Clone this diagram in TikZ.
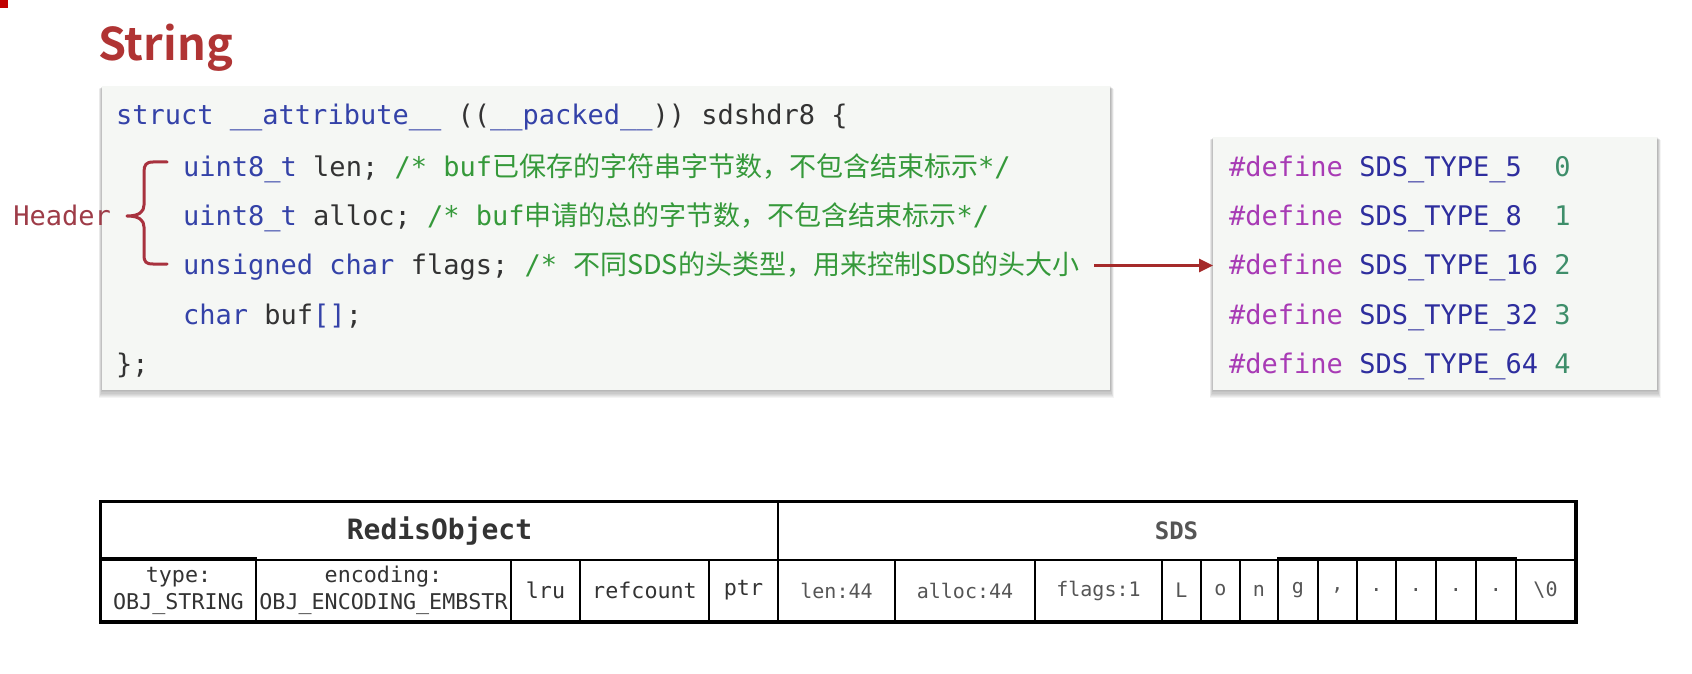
\documentclass[tikz,border=0pt]{standalone}
\usepackage{fontspec}
\setmonofont{DejaVu Sans Mono}
\newfontfamily\cjk{Noto Sans CJK SC}
\newfontfamily\titlefont{Noto Sans CJK SC Bold}
\usetikzlibrary{arrows.meta,calc}
\definecolor{kw}{HTML}{3442A8}
\definecolor{txt}{HTML}{333333}
\definecolor{cmt}{HTML}{35993A}
\definecolor{mac}{HTML}{A83BB5}
\definecolor{cst}{HTML}{2E2E9E}
\definecolor{num}{HTML}{3E8E6A}
\definecolor{ttl}{HTML}{B03434}
\definecolor{brc}{HTML}{A8323E}
\definecolor{hdrc}{HTML}{9E3C48}
\definecolor{arw}{HTML}{A52A2A}
\definecolor{boxbg}{HTML}{F5F7F4}
\definecolor{sdsgray}{HTML}{555555}
\definecolor{corner}{HTML}{C00000}
\begin{document}
\begin{tikzpicture}[x=1pt,y=-1pt,
  codeline/.style={anchor=base west,inner sep=0pt,text=txt,font=\ttfamily\fontsize{27}{27}\selectfont},
  panel/.style={anchor=north west,fill=boxbg,inner sep=0pt},
  tcell/.style={draw=black,line width=2pt,anchor=north west,inner sep=0pt,align=center,text=txt,
     font=\ttfamily\fontsize{21.7}{27}\selectfont},
  scell/.style={tcell,text=sdsgray,font=\ttfamily\fontsize{20}{25}\selectfont},
  arw/.style={draw=arw,line width=3pt,-{Triangle[length=14pt,width=13pt]}},
  bracestyle/.style={draw=brc,line width=3pt,line cap=round,line join=round}]
\useasboundingbox (0,0) rectangle (1692,674);
\fill[white] (0,0) rectangle (1692,674);
\fill[corner] (0,0) rectangle (8,8);

% title
\node[anchor=base west,inner sep=0pt,text=ttl,font=\titlefont\fontsize{45}{45}\selectfont] (title) at (98,61) {String};

% shadows
\foreach \i in {1,...,7}{
  \fill[black,opacity=0.045] ($(102,86)+(-\i*0.5,\i*0.4)$) rectangle ($(1110,390)+(\i*0.5,\i*1.2)$);
  \fill[black,opacity=0.045] ($(1213,137)+(-\i*0.5,\i*0.4)$) rectangle ($(1657,390)+(\i*0.5,\i*1.2)$);
}
\node[panel,minimum width=1008pt,minimum height=304pt] (code) at (102,86) {};
\node[panel,minimum width=444pt,minimum height=253pt] (defbox) at (1213,137) {};

% code lines
\node[codeline] (c1) at (116,125) {{\color{kw}struct \_\_attribute\_\_} ((\color{kw}\_\_packed\_\_\color{txt})) sdshdr8 \{};
\node[codeline] (c2) at (183,176) {{\color{kw}uint8\_t} len; {\color{cmt}/* buf{\cjk 已保存的字符串字节数，不包含结束标示}*/}};
\node[codeline] (c3) at (183,225) {{\color{kw}uint8\_t} alloc; {\color{cmt}/* buf{\cjk 申请的总的字节数，不包含结束标示}*/}};
\node[codeline] (c4) at (183,274) {{\color{kw}unsigned char} flags; {\color{cmt}/* {\cjk 不同SDS的头类型，用来控制SDS的头大小}}};
\node[codeline] (c5) at (183,324) {{\color{kw}char} buf{\color{kw}[]};};
\node[codeline] (c6) at (116,373) {\};};

% defines
\node[codeline] (d1) at (1229,176) {{\color{mac}\#define} {\color{cst}SDS\_TYPE\_5}\ \ {\color{num}0}};
\node[codeline] (d2) at (1229,225) {{\color{mac}\#define} {\color{cst}SDS\_TYPE\_8}\ \ {\color{num}1}};
\node[codeline] (d3) at (1229,274) {{\color{mac}\#define} {\color{cst}SDS\_TYPE\_16} {\color{num}2}};
\node[codeline] (d4) at (1229,324) {{\color{mac}\#define} {\color{cst}SDS\_TYPE\_32} {\color{num}3}};
\node[codeline] (d5) at (1229,373) {{\color{mac}\#define} {\color{cst}SDS\_TYPE\_64} {\color{num}4}};

% header brace
\node[codeline,anchor=base east,text=hdrc] (hdr) at (111,225) {Header};
\draw[bracestyle] (167,162) -- (153,162) .. controls (146,162) and (144,165) .. (144,172)
   -- (144,205) .. controls (144,212) and (139,216) .. (127,216)
   .. controls (139,216) and (144,220) .. (144,227)
   -- (144,255) .. controls (144,262) and (146,264) .. (153,264) -- (167,264);

% arrow
\draw[arw] ([xshift=14pt]c4.east) -- (c4.east -| defbox.west);

% table top row
\node[tcell,minimum width=677pt,minimum height=58pt,font=\ttfamily\bfseries\fontsize{28}{28}\selectfont] (redis) at (100,501) {RedisObject};
\node[tcell,minimum width=797pt,minimum height=58pt,text=sdsgray,font=\ttfamily\bfseries\fontsize{24}{24}\selectfont] (sds) at (777,501) {SDS};
% bottom row
\node[tcell,minimum width=155pt,minimum height=61pt] (type) at (100,559) {type:\\OBJ\_STRING};
\node[tcell,minimum width=255pt,minimum height=61pt] (enc) at (255,559) {encoding:\\OBJ\_ENCODING\_EMBSTR};
\node[tcell,minimum width=69pt,minimum height=61pt] (lru) at (510,559) {lru};
\node[tcell,minimum width=129pt,minimum height=61pt] (ref) at (579,559) {refcount};
\node[tcell,minimum width=69pt,minimum height=61pt] (ptr) at (708,559) {ptr};
\node[scell,minimum width=117pt,minimum height=61pt] (len) at (777,559) {len:44};
\node[scell,minimum width=140pt,minimum height=61pt] (alloc) at (894,559) {alloc:44};
\node[scell,minimum width=127pt,minimum height=61pt] (flags) at (1034,559) {flags:1};
\node[scell,minimum width=39pt,minimum height=61pt] (cL) at (1161,559) {L};
\node[scell,minimum width=39pt,minimum height=61pt] (co) at (1200,559) {o};
\node[scell,minimum width=38pt,minimum height=61pt] (cn) at (1239,559) {n};
\node[scell,minimum width=40pt,minimum height=61pt] (cg) at (1277,559) {g};
\node[scell,minimum width=39pt,minimum height=61pt] (cc) at (1317,559) {,};
\node[scell,minimum width=39pt,minimum height=61pt] (p1) at (1356,559) {.};
\node[scell,minimum width=40pt,minimum height=61pt] (p2) at (1395,559) {.};
\node[scell,minimum width=40pt,minimum height=61pt] (p3) at (1435,559) {.};
\node[scell,minimum width=40pt,minimum height=61pt] (p4) at (1475,559) {.};
\node[scell,minimum width=59pt,minimum height=61pt] (cz) at (1515,559) {\textbackslash 0};
\draw[line width=2pt] ([yshift=1.2pt]cg.north west) -- ([yshift=1.2pt]p4.north east);
\draw[line width=2pt] ([yshift=1pt]type.north west) -- ([yshift=1pt]type.north east);
\draw[line width=3pt] (redis.north west) rectangle (cz.south east);
\end{tikzpicture}
\end{document}
